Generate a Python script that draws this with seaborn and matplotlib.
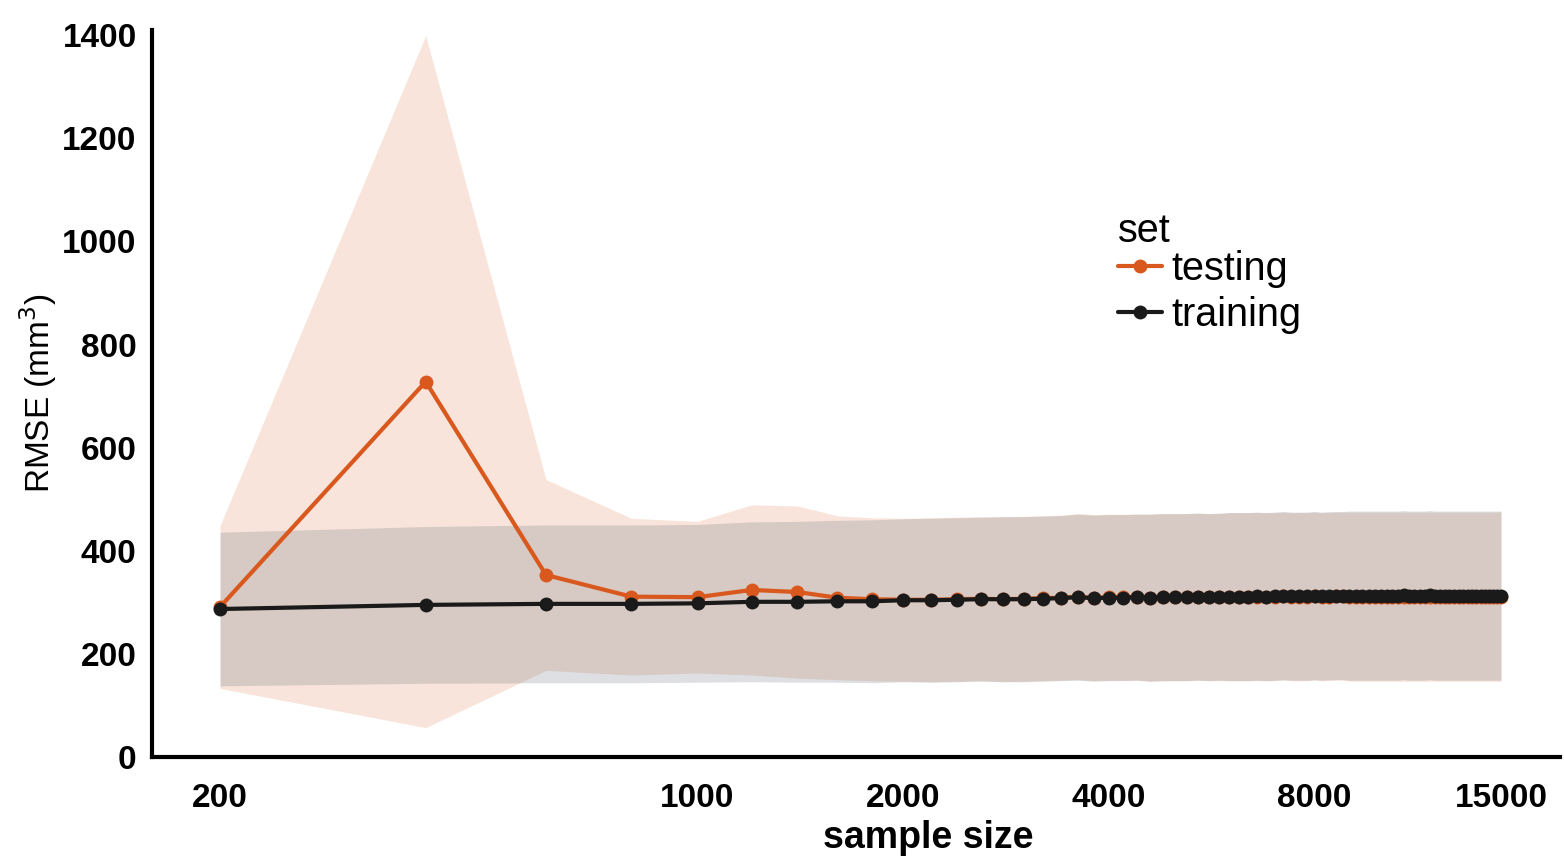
import numpy as np
import pandas as pd
import seaborn as sns
from matplotlib import pyplot as plt

# sample sizes on the x axis (every 200 from 200 to 15000)
sample_sizes = list(range(200, 15001, 200))

training_rmse = [
    287, 295, 297, 297, 298, 301, 301, 302, 302, 304,
    304, 305, 306, 306, 306, 307, 308, 310, 308, 309,
    309, 310, 309, 310, 310, 310, 311, 310, 311, 311,
    311, 311, 312, 311, 312, 313, 312, 312, 312, 313,
    312, 313, 313, 313, 313, 313, 313, 313, 313, 313,
    313, 313, 313, 314, 313, 313, 313, 313, 314, 313,
    313, 313, 313, 313, 313, 313, 313, 313, 313, 313,
    313, 313, 313, 313, 313,
]
testing_rmse = [
    291, 728, 353, 311, 310, 324, 320, 309, 306, 305,
    305, 306, 307, 306, 307, 308, 309, 311, 309, 310,
    310, 310, 309, 310, 310, 310, 311, 310, 310, 311,
    311, 311, 311, 311, 311, 312, 311, 311, 311, 312,
    311, 311, 312, 312, 311, 311, 311, 311, 311, 311,
    311, 311, 311, 311, 311, 311, 311, 311, 311, 311,
    311, 311, 311, 311, 311, 311, 311, 311, 311, 311,
    311, 311, 311, 311, 311,
]
# standard deviation bands
training_sd = [
    149, 152, 153, 153, 153, 155, 156, 157, 158, 158,
    159, 159, 159, 160, 160, 160, 160, 161, 161, 161,
    161, 161, 162, 162, 162, 162, 162, 162, 162, 163,
    163, 163, 163, 163, 163, 163, 163, 163, 163, 163,
    163, 163, 163, 163, 164, 164, 164, 164, 164, 164,
    164, 164, 164, 164, 164, 164, 164, 164, 164, 164,
    164, 164, 164, 164, 164, 164, 164, 164, 164, 164,
    164, 164, 164, 164, 164,
]
testing_sd = [
    158, 671, 185, 152, 147, 165, 167, 159, 158, 158,
    159, 159, 159, 160, 160, 160, 160, 161, 161, 161,
    161, 161, 162, 162, 162, 162, 162, 162, 162, 163,
    163, 163, 163, 163, 163, 163, 163, 163, 163, 163,
    163, 163, 163, 163, 164, 164, 164, 164, 164, 164,
    164, 164, 164, 164, 164, 164, 164, 164, 164, 164,
    164, 164, 164, 164, 164, 164, 164, 164, 164, 164,
    164, 164, 164, 164, 164,
]

x_ticks = [200, 1000, 2000, 4000, 8000, 15000]
y_ticks = [0, 200, 400, 600, 800, 1000, 1200, 1400]

colors = {'testing': '#d9581e', 'training': '#1a1a1a'}

df = pd.DataFrame({
    'sample size': sample_sizes * 2,
    'RMSE': testing_rmse + training_rmse,
    'set': ['testing'] * len(sample_sizes) + ['training'] * len(sample_sizes),
})

sns.set_style('white')
plt.rcParams['font.family'] = ['Liberation Sans', 'DejaVu Sans']
plt.rcParams['text.color'] = 'black'
plt.rcParams['axes.labelcolor'] = 'black'
plt.rcParams['xtick.color'] = 'black'
plt.rcParams['ytick.color'] = 'black'

fig = plt.figure(figsize=(15.64, 8.57), dpi=100)
ax = fig.add_axes([152 / 1564, 100 / 857, 1408 / 1564, 727 / 857])

x = np.array(sample_sizes)
te = np.array(testing_rmse)
tr = np.array(training_rmse)
ax.fill_between(x, te - np.array(testing_sd), te + np.array(testing_sd),
                color=colors['testing'], alpha=0.16, linewidth=0, zorder=1)
ax.fill_between(x, tr - np.array(training_sd), tr + np.array(training_sd),
                color='#283848', alpha=0.155, linewidth=0, zorder=1)

sns.lineplot(data=df, x='sample size', y='RMSE', hue='set', palette=colors,
             marker='o', markersize=10, markeredgewidth=0, linewidth=3,
             errorbar=None, ax=ax, zorder=3)

ax.set_xscale('log')
ax.set_xlim(159, 18300)
ax.set_ylim(0, 1410)
ax.set_xticks(x_ticks)
ax.set_xticklabels([str(t) for t in x_ticks])
ax.xaxis.set_minor_locator(plt.NullLocator())
ax.set_yticks(y_ticks)
ax.set_yticklabels([str(t) for t in y_ticks])
ax.tick_params(axis='both', length=0, labelsize=24, colors='black')
ax.tick_params(axis='x', pad=19)
ax.tick_params(axis='y', pad=11)
for lab in ax.get_xticklabels() + ax.get_yticklabels():
    lab.set_fontweight('bold')

for side in ['top', 'right']:
    ax.spines[side].set_visible(False)
for side in ['left', 'bottom']:
    ax.spines[side].set_color('black')
    ax.spines[side].set_linewidth(3)

ax.set_xlabel('sample size', fontsize=27, fontweight='bold')
ax.xaxis.set_label_coords(0.551, -0.087)
ax.set_ylabel('RMSE (mm$^3$)', fontsize=24)
ax.yaxis.set_label_coords(-0.066, 0.5)

handles, labels = ax.get_legend_handles_labels()
leg = ax.legend(handles, labels, title='set', loc='upper left',
                bbox_to_anchor=(1118 / 1564, 1 - 212 / 857),
                bbox_transform=fig.transFigure, frameon=False,
                fontsize=28.5, title_fontsize=28.5, handlelength=1.1,
                handletextpad=0.25, labelspacing=0.2, borderpad=0,
                borderaxespad=0)
leg._legend_box.align = 'left'
leg._legend_box.sep = 0
for t in leg.get_texts():
    t.set_color('black')
leg.get_title().set_color('black')

fig.savefig('out.png', dpi=100)
